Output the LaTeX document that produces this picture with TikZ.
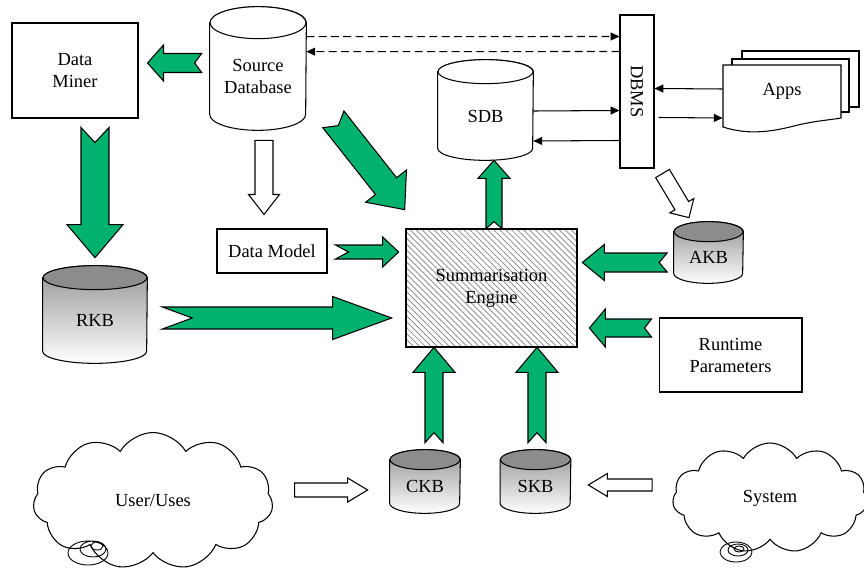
\documentclass[tikz,border=0pt]{standalone}
\usepackage{fontspec}
\setmainfont{Liberation Serif}
\usetikzlibrary{calc,arrows.meta,shapes.symbols,patterns.meta}
\pgfdeclarelayer{background}
\pgfsetlayers{background,main}

\definecolor{kbgreen}{RGB}{0,178,110}

\tikzset{
  box/.style={draw, line width=0.6pt, inner sep=0pt, align=center},
  drumtext/.style={inner sep=0pt, align=center},
  plain drum/.style={draw, line width=0.6pt, fill=white},
  plain drum top/.style={draw, line width=0.6pt, fill=white},
  kb drum/.style={draw, line width=0.6pt, top color=black!42, bottom color=white},
  kb drum top/.style={draw, line width=0.6pt, fill=black!45},
  green arrow/.style={draw, line width=0.6pt, fill=kbgreen},
  white arrow/.style={draw, line width=0.6pt, fill=white},
  link/.style={line width=0.6pt, -{Triangle[length=5pt,width=4.5pt]}},
  thought/.style={cloud, cloud puffs=11, cloud puff arc=120, cloud ignores aspect,
    draw, line width=0.6pt, inner sep=0pt},
}

% database drum drawn round a node: name, x radius, y radius
\newcommand\drum[4][plain drum]{%
  \begin{pgfonlayer}{background}
  \path[#1] (#2.north west) -- ($(#2.south west)+(0,-#4)$)
    arc[start angle=180, end angle=0, x radius=#3, y radius=#4]
    -- (#2.north east)
    arc[start angle=0, end angle=-180, x radius=#3, y radius=#4] -- cycle;
  \path[#1 top] (#2.north) ellipse[x radius=#3, y radius=#4];
  \end{pgfonlayer}}

% block arrow: from, to, shaft half width, head half width, head length, notch
\newcommand\fatarrow[7][green arrow]{%
  \coordinate (fa-a) at (#2);
  \coordinate (fa-b) at (#3);
  \coordinate (fa-h) at ($(fa-b)!#6!(fa-a)$);
  \path[#1] ($(fa-a)!#7!(fa-b)$)
    -- ($(fa-a)!#4!90:(fa-b)$) -- ($(fa-h)!#4!-90:(fa-a)$)
    -- ($(fa-h)!#5!-90:(fa-a)$) -- (fa-b)
    -- ($(fa-h)!#5!90:(fa-a)$) -- ($(fa-h)!#4!90:(fa-a)$)
    -- ($(fa-a)!#4!-90:(fa-b)$) -- cycle;}

\begin{document}
\begin{tikzpicture}[x=0.02cm, y=-0.02cm, font=\fontsize{10.5}{12.5}\selectfont]
\useasboundingbox (0,0) rectangle (864,571);

% boxes
\node[box, minimum width=2.52cm, minimum height=1.9cm] (miner) at (75,70.5) {Data\\Miner};
\node[box, minimum width=2.2cm, minimum height=0.88cm] (model) at (272,251) {Data Model};
\node[box, minimum width=3.42cm, minimum height=2.36cm,
  pattern={Lines[angle=-45,distance=2.4pt,line width=0.4pt]}, pattern color=black!50]
  (engine) at (491.5,288) {Summarisation\\Engine};
\node[box, minimum width=2.86cm, minimum height=1.48cm] (runtime) at (730.5,355) {Runtime\\Parameters};
\node[box, minimum width=0.68cm, minimum height=3.06cm,
  label={[rotate=-90]center:DBMS}] (dbms) at (637,91.5) {};

% databases
\node[drumtext, minimum width=1.92cm, minimum height=2.14cm] (srcdb) at (258,76.5) {Source\\Database};
\drum{srcdb}{48}{16}
\node[drumtext, minimum width=1.9cm, minimum height=1.76cm] (sdb) at (485.5,116) {SDB};
\drum{sdb}{47.5}{12}
\node[drumtext, minimum width=2.08cm, minimum height=1.7cm] (rkb) at (95,320.5) {RKB};
\drum[kb drum]{rkb}{52}{12}
\node[drumtext, minimum width=1.38cm, minimum height=1.02cm] (akb) at (708.5,257.5) {AKB};
\drum[kb drum]{akb}{34.5}{10}
\node[drumtext, minimum width=1.4cm, minimum height=1.06cm] (ckb) at (425,486.5) {CKB};
\drum[kb drum]{ckb}{35}{10}
\node[drumtext, minimum width=1.4cm, minimum height=1.06cm] (skb) at (535.5,486.5) {SKB};
\drum[kb drum]{skb}{35}{10}

% apps stack
\node[inner sep=0pt, minimum width=2.36cm, minimum height=1.06cm] (apps) at (782,91.5) {Apps};
\begin{pgfonlayer}{background}
\draw[line width=0.6pt, fill=white] (742,51) rectangle (859,107);
\draw[line width=0.6pt, fill=white] (732,59) rectangle (849,112);
\draw[line width=0.6pt, fill=white] (723,65) -- (723,127)
  .. controls (745,134) and (765,133) .. (790,127)
  .. controls (812,121) and (830,120) .. (841,118) -- (841,65) -- cycle;
\end{pgfonlayer}

% clouds
\node[thought, minimum width=4.8cm, minimum height=2.74cm] (user) at (153,501) {User/Uses};
\node[thought, minimum width=3.9cm, minimum height=2.2cm] (system) at (770,498) {System};
\draw[line width=0.5pt] (88,553) ellipse[x radius=20, y radius=12]
  (93,549) ellipse[x radius=13, y radius=8] (97,546) ellipse[x radius=6, y radius=4];
\draw[line width=0.5pt] (736,552) ellipse[x radius=16, y radius=10]
  (738,550) ellipse[x radius=10, y radius=6] (739,549) ellipse[x radius=5, y radius=3];

% DBMS links
\draw[link, dash pattern=on 4.5pt off 2.5pt] ($(srcdb.north east)+(0,14)$) -- ($(dbms.north west)+(0,22)$);
\draw[link, dash pattern=on 4.5pt off 2.5pt] ($(dbms.north west)+(0,37)$) -- ($(srcdb.north east)+(0,29)$);
\draw[link] ($(sdb.east)+(0,-5)$) -- ($(dbms.north west)+(0,96)$);
\draw[link] ($(dbms.north west)+(0,126)$) -- ($(sdb.east)+(0,25)$);
\draw[link] ($(apps.west)+(0,-2.5)$) -- ($(dbms.north east)+(0,74)$);
\draw[link] ($(dbms.north east)+(4,103)$) -- ($(apps.west)+(0,26.5)$);

% green flows
\fatarrow{$(srcdb.west)+(-8,-13.5)$}{$(miner.east)+(9,-7.5)$}{0.19cm}{0.36cm}{0.32cm}{0.14cm}
\fatarrow{$(miner.south)+(20,9)$}{$(rkb.north)+(0,-20)$}{0.28cm}{0.56cm}{0.66cm}{0.30cm}
\fatarrow{$(srcdb.south east)+(27,-11)$}{$(engine.north west)+(-1,-19)$}{0.27cm}{0.52cm}{0.60cm}{0.16cm}
\fatarrow{$(model.east)+(8,1)$}{$(engine.west|-model.east)+(-7,1)$}{0.14cm}{0.30cm}{0.32cm}{0.26cm}
\fatarrow{$(rkb.east)+(15,-2.5)$}{$(engine.west|-rkb.east)+(-14,-2.5)$}{0.22cm}{0.43cm}{1.18cm}{0.60cm}
\fatarrow{$(engine.north)+(2.5,0)$}{$(sdb.south)+(8.5,0)$}{0.16cm}{0.32cm}{0.36cm}{0.14cm}
\fatarrow{$(akb.west)+(-6.5,5)$}{$(engine.east|-akb.west)+(5,5)$}{0.19cm}{0.36cm}{0.44cm}{0.16cm}
\fatarrow{$(runtime.west)+(-7,-27)$}{$(engine.east|-runtime.west)+(12,-27)$}{0.18cm}{0.38cm}{0.32cm}{0.14cm}
\fatarrow{$(ckb.north)+(9,-17)$}{$(ckb.north|-engine.south)+(9,0)$}{0.18cm}{0.42cm}{0.50cm}{0.20cm}
\fatarrow{$(skb.north)+(1.5,-17)$}{$(skb.north|-engine.south)+(1.5,0)$}{0.18cm}{0.42cm}{0.50cm}{0.20cm}

% hollow flows
\fatarrow[white arrow]{$(srcdb.south)+(6,10)$}{$(model.north)+(-8,-14)$}{0.18cm}{0.31cm}{0.40cm}{0cm}
\fatarrow[white arrow]{$(dbms.south east)+(8,5)$}{$(akb.north)+(-19.5,-14)$}{0.16cm}{0.28cm}{0.28cm}{0cm}
\fatarrow[white arrow]{$(user.east)+(22,-11)$}{$(ckb.west)+(-22,3.5)$}{0.14cm}{0.24cm}{0.40cm}{0cm}
\fatarrow[white arrow]{$(system.west)+(-20.5,-13)$}{$(skb.east)+(17.5,-1.5)$}{0.12cm}{0.23cm}{0.38cm}{0cm}
\end{tikzpicture}
\end{document}
